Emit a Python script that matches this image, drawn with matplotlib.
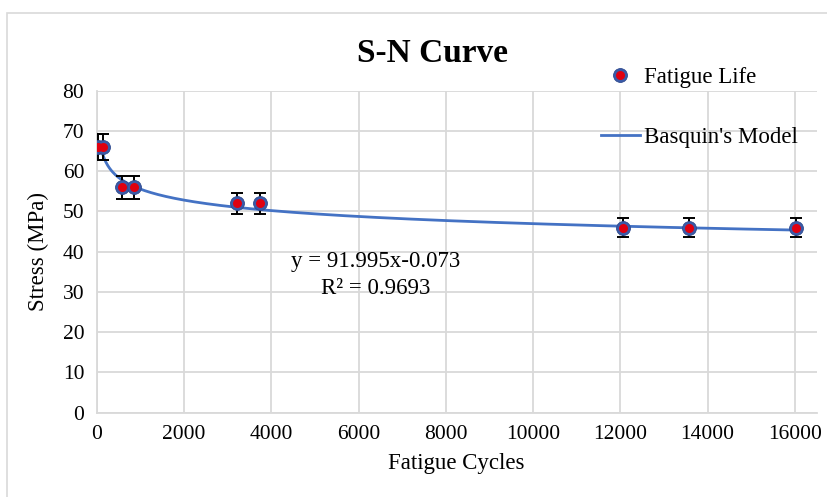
import numpy as np
import matplotlib
matplotlib.use("Agg")
import matplotlib.pyplot as plt
from matplotlib.lines import Line2D
from matplotlib.legend_handler import HandlerTuple
from matplotlib.patches import Rectangle

plt.rcParams['font.family'] = ['Liberation Serif', 'DejaVu Serif']

# Data
cycles = [40, 150, 573, 862, 3211, 3745, 12070, 13580, 16030]
stress = [66, 66, 56, 56, 52, 52, 46, 46, 46]
err_frac = 0.05
fit_a = 91.995
fit_b = -0.073
fit_r2 = 0.9693
fit_start = 90
x_ticks = [0, 2000, 4000, 6000, 8000, 10000, 12000, 14000, 16000]
y_ticks = [0, 10, 20, 30, 40, 50, 60, 70, 80]

W, H = 828, 497
fig = plt.figure(figsize=(W/100, H/100), dpi=100)
fig.patch.set_facecolor('white')
# chart border
fig.add_artist(Rectangle((7/W, -0.1), 1.2, 1 - 13/H + 0.1, transform=fig.transFigure,
                         fill=False, edgecolor='#d9d9d9', linewidth=1.2))

ax = fig.add_axes([96.7/W, 1 - 412.7/H, (816.7-96.7)/W, (412.7-90.7)/H])
ax.set_xlim(0, 16500)
ax.set_ylim(0, 80)
ax.set_xticks(x_ticks)
ax.set_yticks(y_ticks)
ax.tick_params(length=0, labelsize=15.5, pad=9, colors='black')
ax.grid(True, color='#d9d9d9', linewidth=1.3)
ax.set_axisbelow(True)
for s in ['top', 'right']:
    ax.spines[s].set_visible(False)
for s in ['left', 'bottom']:
    ax.spines[s].set_color('#d9d9d9')
    ax.spines[s].set_linewidth(1.3)

x = np.array(cycles, dtype=float)
y = np.array(stress, dtype=float)

# trendline
xf = np.linspace(fit_start, max(cycles), 800)
ax.plot(xf, fit_a * xf ** fit_b, color='#4472C4', linewidth=2.0, zorder=3)

# error bars
ax.errorbar(x, y, yerr=y * err_frac, fmt='none', ecolor='black', elinewidth=1.4,
            capsize=4, capthick=1.4, zorder=4)
# sphere-like markers
blue_kw = dict(marker='o', linestyle='none', color='#3a5aa8', markersize=10,
               markeredgecolor='#2f4b8f', markeredgewidth=0.6)
red_kw = dict(marker='o', linestyle='none', color='#e00010', markersize=6.5,
              markeredgewidth=0)
ax.plot(x, y, zorder=5, **blue_kw)
ax.plot(x, y, zorder=6, **red_kw)

ax.set_xlabel('Fatigue Cycles', fontsize=16.5, labelpad=6)
ax.set_ylabel('Stress (MPa)', fontsize=16.5, labelpad=10)

fig.text(433/W, 1 - 53/H, 'S-N Curve', fontsize=24, fontweight='bold',
         ha='center', va='center')

ax.text(376/W, 1 - 262/H, 'y = 91.995x-0.073', transform=fig.transFigure,
        fontsize=16.5, ha='center', va='center')
ax.text(376/W, 1 - 289/H, 'R² = 0.9693', transform=fig.transFigure,
        fontsize=16.5, ha='center', va='center')

h1 = (Line2D([], [], **blue_kw), Line2D([], [], **red_kw))
h2 = Line2D([], [], color='#4472C4', linewidth=2.0)
leg = fig.legend([h1, h2], ['Fatigue Life', "Basquin's Model"],
                 handler_map={tuple: HandlerTuple(ndivide=1, pad=0)},
                 loc='upper left', bbox_to_anchor=(600.7/W, 1 - 67/H),
                 frameon=False, fontsize=16.5, handlelength=1.7, handletextpad=0.2,
                 labelspacing=1.7, borderpad=0, borderaxespad=0)

fig.savefig('out.png', dpi=100, facecolor='white')
